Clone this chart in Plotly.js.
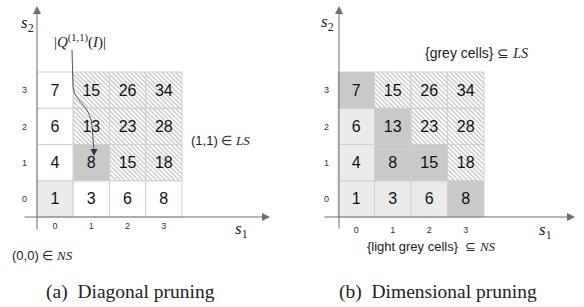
<!DOCTYPE html>
<html>
<head>
<meta charset="utf-8">
<script src="https://cdn.plot.ly/plotly-3.0.1.min.js"></script>
<style>html,body{margin:0;padding:0;background:#fff;}#chart{width:584px;height:307px;}</style>
</head>
<body>
<div id="chart"></div>
<script>
// ---- data ----
const s1Values = [0, 1, 2, 3];
const s2Values = [0, 1, 2, 3];
const s1TickLabels = ['0', '1', '2', '3'];
const s2TickLabels = ['0', '1', '2', '3'];
// counts[row s2][col s1]
const counts = [
  [1, 3, 6, 8],
  [4, 8, 15, 18],
  [6, 13, 23, 28],
  [7, 15, 26, 34]
];
const diagonalKinds = [
  ['light', 'white', 'white', 'white'],
  ['white', 'dark', 'hatch', 'hatch'],
  ['white', 'hatch', 'hatch', 'hatch'],
  ['white', 'hatch', 'hatch', 'hatch']
];
const dimensionalKinds = [
  ['light', 'light', 'light', 'dark'],
  ['light', 'dark', 'dark', 'hatch'],
  ['light', 'dark', 'hatch', 'hatch'],
  ['dark', 'hatch', 'hatch', 'hatch']
];

// ---- styling ----
const W = 584, H = 307;
const fillOf = {light: '#ebebeb', dark: '#c9c9c9', white: '#ffffff', hatch: 'rgba(0,0,0,0)'};
const SANS = 'Liberation Sans, Arial, sans-serif';
const SERIF = 'Liberation Serif, Times New Roman, serif';
const AXIS_COLOR = '#6e6e6e';
const HATCH_STEP = 0.125;

function P(px, py) { return {x: px / W, y: 1 - py / H}; }

function panelTraces(kinds, xa, ya) {
  return s2Values.map((r, ri) => ({
    type: 'bar',
    x: s1Values,
    y: s1Values.map(() => 1),
    base: s1Values.map(() => r - 0.5),
    width: s1Values.map(() => 1),
    xaxis: xa, yaxis: ya,
    text: counts[ri].map(String),
    textposition: 'inside',
    insidetextanchor: 'middle',
    textangle: 0,
    constraintext: 'none',
    textfont: {family: SANS, size: 16, color: '#111'},
    marker: {
      color: kinds[ri].map(k => fillOf[k]),
      line: {color: '#d0d0d0', width: 1}
    },
    hoverinfo: 'skip'
  }));
}

// diagonal hatching ("\\") for hatched cells, clipped to each cell
function hatchShapes(kinds, xa, ya) {
  const out = [];
  s2Values.forEach((r, ri) => s1Values.forEach((c, ci) => {
    if (kinds[ri][ci] !== 'hatch') return;
    const left = c - 0.5, top = r + 0.5;
    for (let t = -1 + HATCH_STEP / 2; t < 1; t += HATCH_STEP) {
      let u0, v0, u1, v1;
      if (t >= 0) { u0 = t; v0 = 0; u1 = 1; v1 = 1 - t; }
      else { u0 = 0; v0 = -t; u1 = 1 + t; v1 = 1; }
      out.push({type: 'line', xref: xa, yref: ya, layer: 'below',
        x0: left + u0, y0: top - v0, x1: left + u1, y1: top - v1,
        line: {color: '#c9c9c9', width: 1.3}});
    }
  }));
  return out;
}

const traces = panelTraces(diagonalKinds, 'x', 'y').concat(panelTraces(dimensionalKinds, 'x2', 'y2'));

const yRange = [5.486 - H / 36.25, 5.486];
const tickFont = {family: SANS, size: 9, color: '#333'};
const baseAxis = {showgrid: false, zeroline: false, showline: false, ticks: '', fixedrange: true, tickfont: tickFont};

function axisArrow(tip, dx, dy) {
  const p = P(tip[0], tip[1]);
  return {xref: 'paper', yref: 'paper', x: p.x, y: p.y, ax: dx, ay: dy, text: '',
    showarrow: true, arrowhead: 2, arrowsize: 1.6, arrowwidth: 1, arrowcolor: AXIS_COLOR, standoff: 0};
}
function label(px, py, text, font) {
  const p = P(px, py);
  return {xref: 'paper', yref: 'paper', x: p.x, y: p.y, xanchor: 'center', yanchor: 'middle',
    text: text, showarrow: false, font: font};
}
const serifMath = {family: SERIF, size: 17, color: '#222'};
const sans13 = {family: SANS, size: 13, color: '#222'};
const caption = {family: SERIF, size: 19.5, color: '#222'};
const it = s => '<i><span style="font-family:Liberation Serif">' + s + '</span></i>';

const annotations = [
  axisArrow([37, 6], 0, 225),
  axisArrow([270, 217], -247, 0),
  axisArrow([339, 6], 0, 224),
  axisArrow([575, 217], -252, 0),
  label(27, 24, '<i>s</i><sub>2</sub>', serifMath),
  label(327, 23, '<i>s</i><sub>2</sub>', serifMath),
  label(241, 230, '<i>s</i><sub>1</sub>', serifMath),
  label(545, 231, '<i>s</i><sub>1</sub>', serifMath),
  label(80, 41, '|<i>Q</i><sup>(1,1)</sup>(<i>I</i>)|', {family: SERIF, size: 15, color: '#222'}),
  label(220, 140, '(1,1) \u2208 ' + it('LS'), sans13),
  label(42, 255, '(0,0) \u2208 ' + it('NS'), sans13),
  label(476, 53, '{grey cells} \u2286 ' + it('LS'), {family: SANS, size: 14, color: '#222'}),
  label(431, 246, '{light grey cells}  \u2286 ' + it('NS'), sans13),
  label(130, 292, '(a)  Diagonal pruning', caption),
  label(438, 292, '(b)  Dimensional pruning', caption),
  // arrowhead of curved pointer
  (function () { const p = P(94, 156); return {xref: 'paper', yref: 'paper', x: p.x, y: p.y, ax: 0, ay: -8, text: '',
    showarrow: true, arrowhead: 2, arrowsize: 1.4, arrowwidth: 1, arrowcolor: '#333', standoff: 0}; })()
];

function pathOf(cmds) {
  return cmds.map(c => c[0] + ' ' + c.slice(1).reduce((acc, v, i, arr) => {
    if (i % 2 === 0) { const p = P(v, arr[i + 1]); acc.push(p.x.toFixed(5) + ',' + p.y.toFixed(5)); }
    return acc;
  }, []).join(' ')).join(' ');
}

const shapes = hatchShapes(diagonalKinds, 'x', 'y')
  .concat(hatchShapes(dimensionalKinds, 'x2', 'y2'))
  .concat([
    {type: 'path', xref: 'paper', yref: 'paper',
     path: pathOf([['M', 72, 50], ['L', 73, 86], ['C', 74, 102, 90, 104, 92, 126], ['L', 94, 150]]),
     line: {color: '#555', width: 1}}
  ]);

const layout = {
  width: W, height: H,
  margin: {l: 0, r: 0, t: 0, b: 0},
  paper_bgcolor: '#fff', plot_bgcolor: 'rgba(0,0,0,0)',
  showlegend: false,
  barmode: 'overlay', bargap: 0,
  xaxis: Object.assign({}, baseAxis, {domain: [0, 290 / W], range: [-1.52, 6.48], anchor: 'free',
    position: (H - 217) / H, tickvals: s1Values, ticktext: s1TickLabels, ticklabelstandoff: 2}),
  yaxis: Object.assign({}, baseAxis, {domain: [0, 1], range: yRange, anchor: 'free',
    position: 37 / W, tickvals: s2Values, ticktext: s2TickLabels, ticklabelstandoff: 10}),
  xaxis2: Object.assign({}, baseAxis, {domain: [290 / W, 1], range: [-1.815, 6.24], anchor: 'free',
    position: (H - 217) / H, tickvals: s1Values, ticktext: s1TickLabels, ticklabelstandoff: 6}),
  yaxis2: Object.assign({}, baseAxis, {domain: [0, 1], range: yRange, anchor: 'free',
    position: 339 / W, tickvals: s2Values, ticktext: s2TickLabels, ticklabelstandoff: 10}),
  annotations: annotations,
  shapes: shapes
};

Plotly.newPlot('chart', traces, layout, {staticPlot: true, displayModeBar: false});
</script>
</body>
</html>
